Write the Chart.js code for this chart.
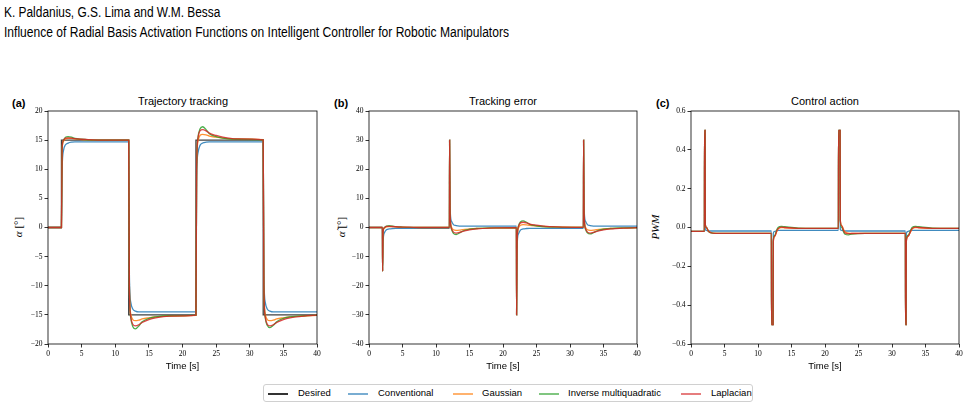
<!DOCTYPE html>
<html>
<head>
<meta charset="utf-8">
<script src="https://cdn.jsdelivr.net/npm/chart.js@4"></script>
<style>
  body { margin: 0; width: 970px; height: 409px; background: #fff; position: relative; overflow: hidden; font-family: 'Liberation Sans', sans-serif; }
  .hdr { position: absolute; left: 4px; font-size: 14px; white-space: nowrap; transform-origin: 0 50%; color: #000; }
  canvas { position: absolute; }
  .ptitle { position: absolute; top: 95px; font-size: 11px; transform: translateX(-50%); white-space: nowrap; }
  .plabel { position: absolute; top: 97px; font-size: 11px; font-weight: bold; }
  .ytitle { position: absolute; top: 227px; font-family: 'Liberation Serif', serif; font-size: 11px; white-space: nowrap;
            transform: translate(-50%, -50%) rotate(-90deg); }
  .legend { position: absolute; left: 263px; top: 384px; width: 488px; height: 16px; border: 1px solid #d0d0d0; border-radius: 3px; font-size: 9.5px; }
  .legend span { position: absolute; top: 2px; white-space: nowrap; }
  .legend b { position: absolute; top: 8px; width: 20px; height: 1.5px; }
</style>
</head>
<body>
<div class="hdr" id="h1" style="top:4px">K. Paldanius, G.S. Lima and W.M. Bessa</div>
<div class="hdr" id="h2" style="top:24px">Influence of Radial Basis Activation Functions on Intelligent Controller for Robotic Manipulators</div>

<div class="plabel" style="left:12px">(a)</div>
<div class="plabel" style="left:334px">(b)</div>
<div class="plabel" style="left:656px">(c)</div>
<div class="ptitle" style="left:183px">Trajectory tracking</div>
<div class="ptitle" style="left:503px">Tracking error</div>
<div class="ptitle" style="left:825px">Control action</div>
<div class="ytitle" style="left:18px"><i>α</i> [°]</div>
<div class="ytitle" style="left:341px"><i>α̃</i> [°]</div>
<div class="ytitle" style="left:655px"><i>PWM</i></div>

<canvas id="chartA" width="327" height="274" style="left:0px;top:100px"></canvas>
<canvas id="chartB" width="326" height="274" style="left:321px;top:100px"></canvas>
<canvas id="chartC" width="326" height="274" style="left:643px;top:100px"></canvas>

<div class="legend" id="legend"></div>

<script>
// series names and colours
const seriesNames = ['Desired', 'Conventional', 'Gaussian', 'Inverse multiquadratic', 'Laplacian'];
const seriesColors = ['0,0,0', '31,119,180', '255,127,14', '44,160,44', '214,39,40'];

// (a) trajectory tracking
const desiredTime = [0, 2, 2, 12, 12, 22, 22, 32, 32, 40];
const desiredAngle = [0, 0, 15, 15, -15, -15, 15, 15, -15, -15];

const timeA = [0, 2, 2.1, 2.3, 2.6, 3, 3.5, 4, 5, 6, 8,
  12, 12.1, 12.3, 12.6, 13, 13.5, 14, 15, 16, 18,
  22, 22.1, 22.3, 22.6, 23, 23.5, 24, 25, 26, 28,
  32, 32.1, 32.3, 32.6, 33, 33.5, 34, 35, 36, 38, 40];
const convAngle = [0, 0, 10, 13.2, 14.2, 14.5, 14.65, 14.7, 14.7, 14.7, 14.7,
  14.7, -8, -12.8, -14.0, -14.35, -14.5, -14.5, -14.5, -14.5, -14.5,
  -14.5, 8, 12.8, 14.1, 14.5, 14.65, 14.7, 14.7, 14.7, 14.7,
  14.7, -8, -12.8, -14.0, -14.35, -14.5, -14.5, -14.5, -14.5, -14.5, -14.5];
const gaussAngle = [0, 0, 13.5, 14.8, 15.2, 15.3, 15.3, 15.2, 15.1, 15.05, 15.0,
  15.0, -10, -14.8, -15.8, -16.0, -15.9, -15.7, -15.5, -15.35, -15.2,
  -15.1, 10, 14.8, 15.8, 16.0, 15.9, 15.7, 15.5, 15.35, 15.2,
  15.1, -10, -14.8, -15.8, -16.0, -15.9, -15.7, -15.5, -15.35, -15.2, -15.1];
const imqAngle = [0, 0, 13.5, 15.0, 15.5, 15.6, 15.5, 15.3, 15.15, 15.05, 15.0,
  15.0, -10, -15.5, -17.0, -17.4, -16.9, -16.2, -15.6, -15.35, -15.15,
  -15.05, 10, 15.5, 16.9, 17.3, 16.8, 16.1, 15.6, 15.35, 15.15,
  15.05, -10, -15.5, -16.8, -17.2, -16.8, -16.2, -15.6, -15.35, -15.15, -15.05];
const lapAngle = [0, 0, 13.5, 15.0, 15.35, 15.4, 15.35, 15.25, 15.15, 15.1, 15.0,
  15.0, -10, -15.3, -16.6, -16.9, -16.7, -16.3, -15.8, -15.5, -15.2,
  -15.05, 10, 15.3, 16.6, 16.8, 16.6, 16.2, 15.8, 15.5, 15.2,
  15.05, -10, -15.3, -16.6, -16.9, -16.7, -16.3, -15.8, -15.5, -15.2, -15.05];

// (b) tracking error
const timeB = [0, 2, 2.03, 2.1, 2.3, 2.6, 3, 3.5, 4, 5, 6, 8,
  12, 12.03, 12.1, 12.3, 12.6, 13, 13.5, 14, 15, 16, 18,
  22, 22.03, 22.1, 22.3, 22.6, 23, 23.5, 24, 25, 26, 28,
  32, 32.03, 32.1, 32.3, 32.6, 33, 33.5, 34, 35, 36, 38, 40];
const convError = [0, 0, -15, -5, -1.8, -0.8, -0.5, -0.35, -0.3, -0.3, -0.3, -0.3,
  -0.3, 30, 7, 2.2, 1.0, 0.65, 0.5, 0.5, 0.5, 0.5, 0.5,
  0.5, -30, -7, -2.2, -0.9, -0.5, -0.35, -0.3, -0.3, -0.3, -0.3,
  -0.3, 30, 7, 2.2, 1.0, 0.65, 0.5, 0.5, 0.5, 0.5, 0.5, 0.5];
const gaussError = [0, 0, -15, -1.5, -0.2, 0.2, 0.3, 0.3, 0.2, 0.1, 0.05, 0,
  0, 30, 5, 0.2, -0.8, -1.0, -0.9, -0.7, -0.5, -0.35, -0.2,
  -0.1, -30, -5, -0.2, 0.8, 1.0, 0.9, 0.7, 0.5, 0.35, 0.2,
  0.1, 30, 5, 0.2, -0.8, -1.0, -0.9, -0.7, -0.5, -0.35, -0.2, -0.1];
const imqError = [0, 0, -15, -1.5, 0, 0.5, 0.6, 0.5, 0.3, 0.15, 0.05, 0,
  0, 30, 5, -0.5, -2.0, -2.4, -1.9, -1.2, -0.6, -0.35, -0.15,
  -0.05, -30, -5, 0.5, 1.9, 2.3, 1.8, 1.1, 0.6, 0.35, 0.15,
  0.05, 30, 5, -0.5, -1.8, -2.2, -1.8, -1.2, -0.6, -0.35, -0.15, -0.05];
const lapError = [0, 0, -15, -1.5, 0, 0.35, 0.4, 0.35, 0.25, 0.15, 0.1, 0,
  0, 30, 5, -0.3, -1.6, -1.9, -1.7, -1.3, -0.8, -0.5, -0.2,
  -0.05, -30, -5, 0.3, 1.6, 1.8, 1.6, 1.2, 0.8, 0.5, 0.2,
  0.05, 30, 5, -0.3, -1.6, -1.9, -1.7, -1.3, -0.8, -0.5, -0.2, -0.05];

// (c) control action
const timeC = [0, 2, 2.02, 2.1, 2.13, 2.3, 2.6, 3, 3.5, 4, 6,
  12, 12.02, 12.25, 12.28, 12.5, 12.8, 13, 13.5, 14, 16,
  22, 22.02, 22.25, 22.28, 22.5, 22.8, 23, 23.5, 24, 26,
  32, 32.02, 32.1, 32.13, 32.4, 32.8, 33, 33.5, 34, 36, 40];
const convPwm = [-0.02, -0.02, 0.5, 0.5, -0.01, -0.015, -0.018, -0.018, -0.018, -0.018, -0.018,
  -0.018, -0.5, -0.5, -0.03, -0.02, -0.016, -0.015, -0.015, -0.015, -0.015,
  -0.015, 0.5, 0.5, -0.01, -0.015, -0.017, -0.018, -0.018, -0.018, -0.018,
  -0.018, -0.5, -0.5, -0.03, -0.02, -0.016, -0.015, -0.015, -0.015, -0.015, -0.015];
const gaussPwm = [-0.02, -0.02, 0.5, 0.5, 0.02, 0.0, -0.018, -0.026, -0.029, -0.03, -0.03,
  -0.03, -0.5, -0.5, -0.07, -0.045, -0.02, -0.008, 0.0, -0.002, -0.004,
  -0.005, 0.5, 0.5, 0.04, 0.01, -0.012, -0.022, -0.029, -0.03, -0.03,
  -0.03, -0.5, -0.5, -0.07, -0.045, -0.02, -0.008, 0.0, -0.002, -0.004, -0.005];
const imqPwm = [-0.02, -0.02, 0.5, 0.5, 0.02, 0.0, -0.02, -0.028, -0.03, -0.03, -0.03,
  -0.03, -0.5, -0.5, -0.065, -0.04, -0.012, 0.0, 0.006, 0.004, -0.003,
  -0.005, 0.5, 0.5, 0.035, 0.0, -0.025, -0.035, -0.038, -0.034, -0.03,
  -0.03, -0.5, -0.5, -0.065, -0.04, -0.012, 0.0, 0.006, 0.004, -0.003, -0.005];
const lapPwm = [-0.02, -0.02, 0.5, 0.5, 0.02, 0.0, -0.019, -0.027, -0.03, -0.03, -0.03,
  -0.03, -0.5, -0.5, -0.075, -0.045, -0.018, -0.006, 0.002, 0.0, -0.004,
  -0.005, 0.5, 0.5, 0.04, 0.008, -0.018, -0.028, -0.032, -0.031, -0.03,
  -0.03, -0.5, -0.5, -0.075, -0.045, -0.018, -0.006, 0.002, 0.0, -0.004, -0.005];

// squeeze the header lines to the width they have in the figure
[['h1', 216], ['h2', 505]].forEach(([id, w]) => {
  const el = document.getElementById(id);
  el.style.transform = `scaleX(${w / el.offsetWidth})`;
});

// legend
const legendEl = document.getElementById('legend');
const legendPos = [[4, 34], [84, 114], [189, 218], [275, 304], [417, 447]];
seriesNames.forEach((name, i) => {
  legendEl.insertAdjacentHTML('beforeend',
    `<b style="left:${legendPos[i][0]}px;background:rgba(${seriesColors[i]},${i === 0 ? 0.8 : 0.6})"></b>` +
    `<span style="left:${legendPos[i][1]}px">${name}</span>`);
});

const frame = {
  id: 'frame',
  afterDraw(chart) {
    const { ctx, chartArea: a } = chart;
    ctx.save();
    ctx.strokeStyle = '#000';
    ctx.lineWidth = 0.8;
    ctx.strokeRect(a.left, a.top, a.right - a.left, a.bottom - a.top);
    ctx.restore();
  }
};

const minus = v => (v < 0 ? '\u2212' : '');
const tickFont = { family: "'Liberation Serif', serif", size: 7.5 };

function line(xs, ys, idx, extra) {
  return Object.assign({
    label: seriesNames[idx],
    data: xs.map((x, i) => ({ x, y: ys[i] })),
    borderColor: `rgba(${seriesColors[idx]},${idx === 0 ? 0.75 : 0.85})`,
    borderWidth: 1.3,
    pointRadius: 0,
    cubicInterpolationMode: 'monotone',
    order: 4 - idx
  }, extra || {});
}

function makeChart(id, datasets, y) {
  new Chart(document.getElementById(id), {
    type: 'line',
    data: { datasets },
    plugins: [frame],
    options: {
      responsive: false,
      animation: false,
      layout: { padding: { left: 0, right: 10, top: 11, bottom: 0 } },
      plugins: { legend: { display: false }, tooltip: { enabled: false } },
      scales: {
        x: {
          type: 'linear', min: 0, max: 40,
          ticks: { stepSize: 5, font: tickFont, color: '#000', padding: 2, maxRotation: 0, autoSkip: false,
            callback: v => String(v) },
          grid: { drawOnChartArea: false, drawTicks: true, tickLength: 3.5, tickColor: '#000', tickWidth: 0.8 },
          border: { display: false },
          title: { display: true, text: 'Time [s]', color: '#000', padding: { top: 2, bottom: 2 },
            font: { family: "'Liberation Sans', sans-serif", size: 9.5 } },
          afterFit: s => { s.height = 30; }
        },
        y: {
          min: y.min, max: y.max,
          ticks: { stepSize: y.step, font: tickFont, color: '#000', padding: 2, autoSkip: false,
            callback: y.fmt },
          grid: { drawOnChartArea: false, drawTicks: true, tickLength: 3.5, tickColor: '#000', tickWidth: 0.8 },
          border: { display: false },
          afterFit: s => { s.width = 48; }
        }
      }
    }
  });
}

makeChart('chartA', [
  line(desiredTime, desiredAngle, 0, { cubicInterpolationMode: 'default', tension: 0 }),
  line(timeA, convAngle, 1),
  line(timeA, gaussAngle, 2),
  line(timeA, imqAngle, 3),
  line(timeA, lapAngle, 4)
], { min: -20, max: 20, step: 5, fmt: v => minus(v) + Math.abs(v) });

makeChart('chartB', [
  line(timeB, convError, 1),
  line(timeB, gaussError, 2),
  line(timeB, imqError, 3),
  line(timeB, lapError, 4)
], { min: -40, max: 40, step: 10, fmt: v => minus(v) + Math.abs(v) });

makeChart('chartC', [
  line(timeC, convPwm, 1),
  line(timeC, gaussPwm, 2),
  line(timeC, imqPwm, 3),
  line(timeC, lapPwm, 4)
], { min: -0.6, max: 0.6, step: 0.2,
     fmt: v => (Math.abs(v) < 1e-9 ? '0.0' : minus(v) + Math.abs(v).toFixed(1)) });
</script>
</body>
</html>
